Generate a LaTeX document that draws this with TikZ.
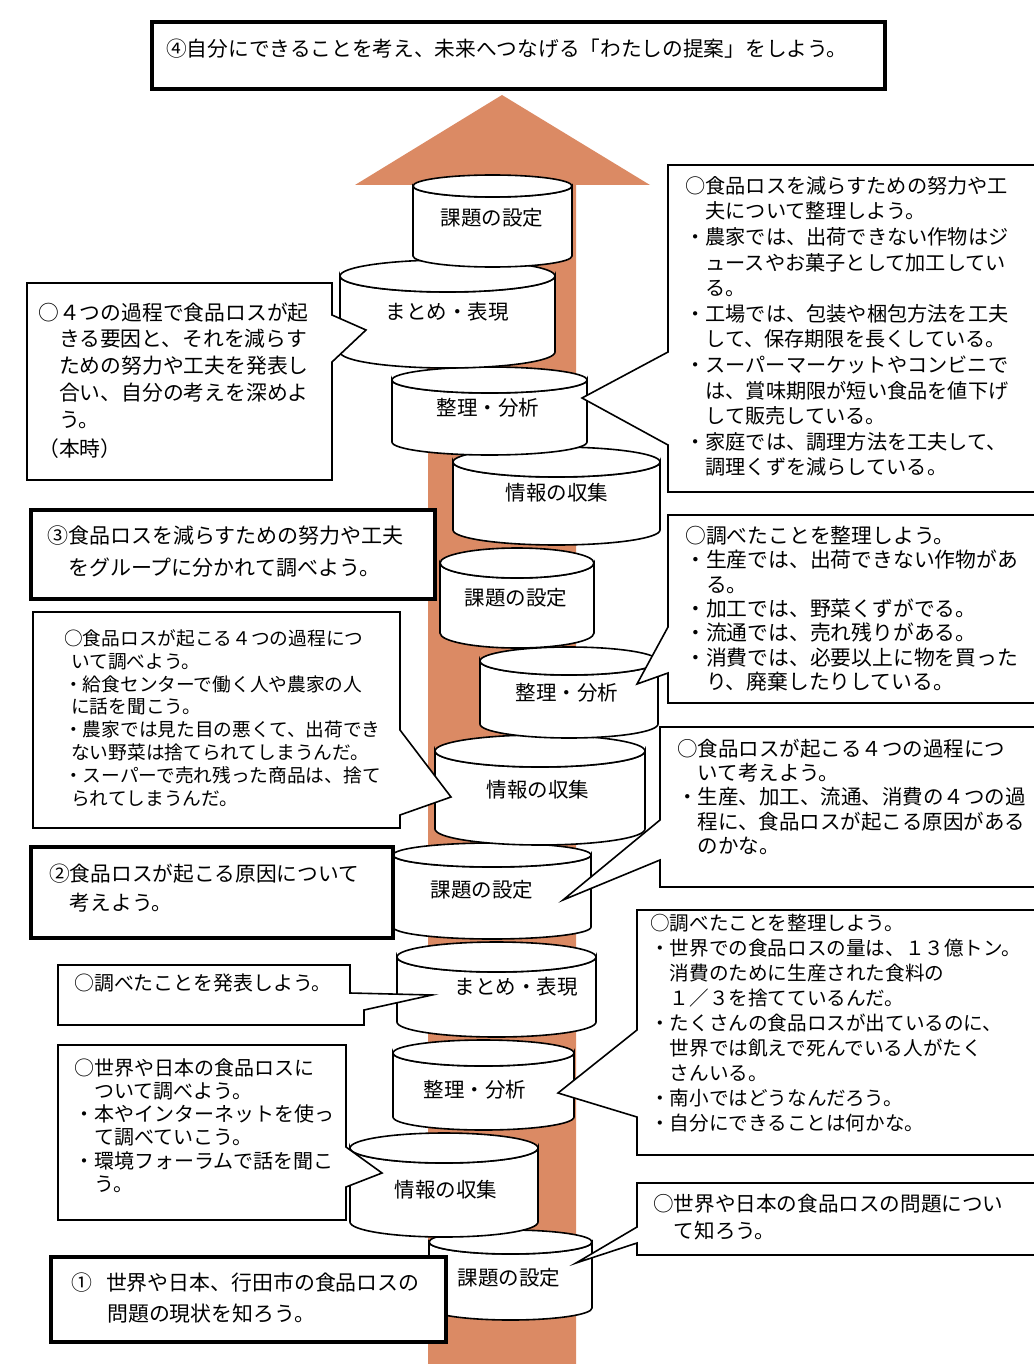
\documentclass[tikz,border=0pt]{standalone}
\usepackage{fontspec}
\setmainfont{Noto Sans CJK JP}
\definecolor{arrowc}{RGB}{219,138,100}
\newcommand\firstln{\rule{0pt}{18pt}}
\newcommand\mycyl[9]{%
  \draw[cyl] ({#2-#5},#3) -- ({#2-#5},#4)
    arc[start angle=180,end angle=360,x radius=#5pt,y radius=#6pt]
    -- ({#2+#5},#3)
    arc[start angle=0,end angle=-180,x radius=#5pt,y radius=#6pt] -- cycle;
  \draw[cyl] (#2,#3) ellipse[x radius=#5pt, y radius=#6pt];
  \node[lab] (#1) at (#7,#8) {#9};
}
\begin{document}
\begin{tikzpicture}[x=1pt,y=-1pt,
  cyl/.style={draw=black, line width=1.6pt, fill=white},
  lab/.style={inner sep=0pt, font=\fontsize{20.5}{24}\selectfont},
  callout/.style={draw=black, line width=1.6pt, fill=white, line join=miter},
  thickbox/.style={draw=black, line width=4pt, fill=white},
  txt/.style={anchor=north west, inner sep=0pt, align=left}]
\useasboundingbox (0,0) rectangle (1033,1364);
\fill[white] (0,0) rectangle (1033,1364);
% big arrow
\fill[arrowc] (428,185) -- (428,1370) -- (576,1370) -- (576,185) -- (650,185) -- (502,95) -- (355,185) -- cycle;
% cylinders, bottom to top
\mycyl{c12}{510.5}{1242}{1308}{81.5}{12}{509}{1278}{課題の設定}
\mycyl{c11}{444}{1148}{1222}{94}{15}{446}{1190}{情報の収集}
\mycyl{c10}{483.5}{1053}{1117}{90.5}{13}{475}{1090}{整理・分析}
\mycyl{c9}{496.5}{957}{1022}{99.5}{15}{516}{987}{まとめ・表現}
\mycyl{c8}{492}{855}{927}{99}{12}{482}{890}{課題の設定}
\mycyl{c7}{540}{751}{829}{105}{16}{538}{790}{情報の収集}
\mycyl{c6}{569}{661}{724}{89}{14}{567}{693}{整理・分析}
\mycyl{c5}{517}{563}{633}{77}{15}{516}{598}{課題の設定}
\mycyl{c4}{556.5}{462}{530}{103.5}{15}{557}{493}{情報の収集}
\mycyl{c3}{489.5}{380}{442}{97.5}{13}{488}{408}{整理・分析}
\mycyl{c2}{447.5}{276}{352}{107.5}{16}{447}{312}{まとめ・表現}
\mycyl{c1}{492.5}{186}{256}{79.5}{11}{492}{218}{課題の設定}
% thick stage boxes
\draw[thickbox] (152,22) rectangle (885,89);
\draw[thickbox] (31,510) rectangle (435,599);
\draw[thickbox] (31,847) rectangle (393,938);
\draw[thickbox] (51,1257) rectangle (446,1342);
% callouts
\draw[callout] (27,283) -- (332,283) -- (332,315) -- (366,330) -- (332,362) -- (332,480) -- (27,480) -- cycle;
\draw[callout] (668,165) -- (1045,165) -- (1045,492) -- (668,492) -- (668,445) -- (582,398) -- (668,352) -- cycle;
\draw[callout] (668,515) -- (1045,515) -- (1045,703) -- (668,703) -- (668,673) -- (637,684) -- (668,627) -- cycle;
\draw[callout] (660,727) -- (1045,727) -- (1045,887) -- (660,887) -- (660,860) -- (563,900) -- (660,820) -- cycle;
\draw[callout] (637,910) -- (1045,910) -- (1045,1155) -- (637,1155) -- (637,1117) -- (558,1093) -- (637,1030) -- cycle;
\draw[callout] (637,1183) -- (1045,1183) -- (1045,1255) -- (637,1255) -- (637,1243) -- (576,1263) -- (637,1227) -- cycle;
\draw[callout] (33,612) -- (400,612) -- (400,730) -- (451,797) -- (400,815) -- (400,828) -- (33,828) -- cycle;
\draw[callout] (58,965) -- (350,965) -- (350,993) -- (432,995) -- (364,1010) -- (364,1025) -- (58,1025) -- cycle;
\draw[callout] (58,1045) -- (346,1045) -- (346,1147) -- (382,1173) -- (346,1187) -- (346,1220) -- (58,1220) -- cycle;
% texts
\node[txt, font=\fontsize{20.7}{25}\selectfont] (t4) at (166,38) {\firstln ④自分にできることを考え、未来へつなげる「わたしの提案」をしよう。};
\node[txt, font=\fontsize{20.8}{26.7}\selectfont] (ta) at (38,302) {\firstln ○４つの過程で食品ロスが起\\　きる要因と、それを減らす\\　ための努力や工夫を発表し\\　合い、自分の考えを深めよ\\　う。\\[3pt]（本時）};
\node[txt, font=\fontsize{20.2}{25.6}\selectfont] (tb) at (685,175) {\firstln ○食品ロスを減らすための努力や工\\　夫について整理しよう。\\・農家では、出荷できない作物はジ\\　ュースやお菓子として加工してい\\　る。\\・工場では、包装や梱包方法を工夫\\　して、保存期限を長くしている。\\・スーパーマーケットやコンビニで\\　は、賞味期限が短い食品を値下げ\\　して販売している。\\・家庭では、調理方法を工夫して、\\　調理くずを減らしている。};
\node[txt, font=\fontsize{20.8}{24.4}\selectfont] (tc) at (685,525) {\firstln ○調べたことを整理しよう。\\・生産では、出荷できない作物があ\\　る。\\・加工では、野菜くずがでる。\\・流通では、売れ残りがある。\\・消費では、必要以上に物を買った\\　り、廃棄したりしている。};
\node[txt, font=\fontsize{20.5}{24.3}\selectfont] (td) at (677,738) {\firstln ○食品ロスが起こる４つの過程につ\\　いて考えよう。\\・生産、加工、流通、消費の４つの過\\　程に、食品ロスが起こる原因がある\\　のかな。};
\node[txt, font=\fontsize{19.6}{25}\selectfont] (te) at (650,912) {\firstln ○調べたことを整理しよう。\\・世界での食品ロスの量は、１３億トン。\\　消費のために生産された食料の\\　１／３を捨てているんだ。\\・たくさんの食品ロスが出ているのに、\\　世界では飢えで死んでいる人がたく\\　さんいる。\\・南小ではどうなんだろう。\\・自分にできることは何かな。};
\node[txt, font=\fontsize{20.6}{27}\selectfont] (tf) at (653,1193) {\firstln ○世界や日本の食品ロスの問題につい\\　て知ろう。};
\node[txt, font=\fontsize{21}{32}\selectfont] (t3) at (47,525) {\firstln ③食品ロスを減らすための努力や工夫\\　をグループに分かれて調べよう。};
\node[txt, font=\fontsize{18.7}{22.9}\selectfont] (tg) at (64,627) {\firstln ○食品ロスが起こる４つの過程につ\\\hspace*{7pt}いて調べよう。\\・給食センターで働く人や農家の人\\\hspace*{7pt}に話を聞こう。\\・農家では見た目の悪くて、出荷でき\\\hspace*{7pt}ない野菜は捨てられてしまうんだ。\\・スーパーで売れ残った商品は、捨て\\\hspace*{7pt}られてしまうんだ。};
\node[txt, font=\fontsize{20.7}{29}\selectfont] (t2) at (49,863) {\firstln ②食品ロスが起こる原因について\\　考えよう。};
\node[txt, font=\fontsize{19.9}{24}\selectfont] (th) at (74,972) {\firstln ○調べたことを発表しよう。};
\node[txt, font=\fontsize{20}{23.2}\selectfont] (ti) at (74,1057) {\firstln ○世界や日本の食品ロスに\\　ついて調べよう。\\・本やインターネットを使っ\\　て調べていこう。\\・環境フォーラムで話を聞こ\\　う。};
\node[txt, font=\fontsize{20.9}{31}\selectfont] (t1) at (71,1272) {\firstln ①\hspace{14pt}世界や日本、行田市の食品ロスの\\\hspace*{36pt}問題の現状を知ろう。};
\end{tikzpicture}
\end{document}
